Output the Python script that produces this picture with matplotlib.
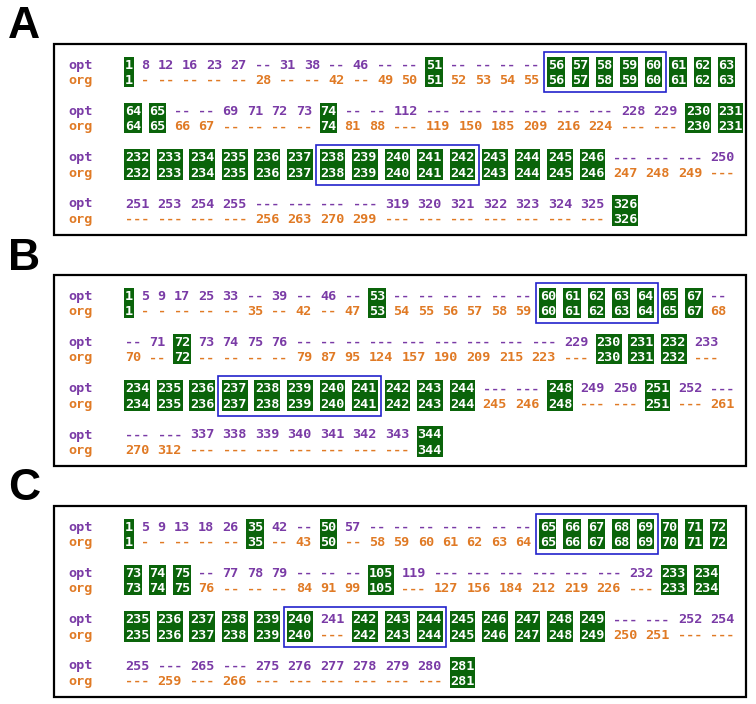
import matplotlib
matplotlib.use('Agg')
import matplotlib.pyplot as plt
from matplotlib.patches import Rectangle

# alignment rows: None = gap (drawn as dashes)
A_opt = [[1, 8, 12, 16, 23, 27, None, 31, 38, None, 46, None, None, 51, None, None, None, None, 56, 57, 58, 59, 60, 61, 62, 63],
         [64, 65, None, None, 69, 71, 72, 73, 74, None, None, 112, None, None, None, None, None, None, 228, 229, 230, 231],
         [232, 233, 234, 235, 236, 237, 238, 239, 240, 241, 242, 243, 244, 245, 246, None, None, None, 250],
         [251, 253, 254, 255, None, None, None, None, 319, 320, 321, 322, 323, 324, 325, 326]]
A_org = [[1, None, None, None, None, None, 28, None, None, 42, None, 49, 50, 51, 52, 53, 54, 55, 56, 57, 58, 59, 60, 61, 62, 63],
         [64, 65, 66, 67, None, None, None, None, 74, 81, 88, None, 119, 150, 185, 209, 216, 224, None, None, 230, 231],
         [232, 233, 234, 235, 236, 237, 238, 239, 240, 241, 242, 243, 244, 245, 246, 247, 248, 249, None],
         [None, None, None, None, 256, 263, 270, 299, None, None, None, None, None, None, None, 326]]
A_blue = [(0, 56, 60), (2, 238, 242)]

B_opt = [[1, 5, 9, 17, 25, 33, None, 39, None, 46, None, 53, None, None, None, None, None, None, 60, 61, 62, 63, 64, 65, 67, None],
         [None, 71, 72, 73, 74, 75, 76, None, None, None, None, None, None, None, None, None, 229, 230, 231, 232, 233],
         [234, 235, 236, 237, 238, 239, 240, 241, 242, 243, 244, None, None, 248, 249, 250, 251, 252, None],
         [None, None, 337, 338, 339, 340, 341, 342, 343, 344]]
B_org = [[1, None, None, None, None, None, 35, None, 42, None, 47, 53, 54, 55, 56, 57, 58, 59, 60, 61, 62, 63, 64, 65, 67, 68],
         [70, None, 72, None, None, None, None, 79, 87, 95, 124, 157, 190, 209, 215, 223, None, 230, 231, 232, None],
         [234, 235, 236, 237, 238, 239, 240, 241, 242, 243, 244, 245, 246, 248, None, None, 251, None, 261],
         [270, 312, None, None, None, None, None, None, None, 344]]
B_blue = [(0, 60, 64), (2, 237, 241)]

C_opt = [[1, 5, 9, 13, 18, 26, 35, 42, None, 50, 57, None, None, None, None, None, None, None, 65, 66, 67, 68, 69, 70, 71, 72],
         [73, 74, 75, None, 77, 78, 79, None, None, None, 105, 119, None, None, None, None, None, None, 232, 233, 234],
         [235, 236, 237, 238, 239, 240, 241, 242, 243, 244, 245, 246, 247, 248, 249, None, None, 252, 254],
         [255, None, 265, None, 275, 276, 277, 278, 279, 280, 281]]
C_org = [[1, None, None, None, None, None, 35, None, 43, 50, None, 58, 59, 60, 61, 62, 63, 64, 65, 66, 67, 68, 69, 70, 71, 72],
         [73, 74, 75, 76, None, None, None, 84, 91, 99, 105, None, 127, 156, 184, 212, 219, 226, None, 233, 234],
         [235, 236, 237, 238, 239, 240, None, 242, 243, 244, 245, 246, 247, 248, 249, 250, 251, None, None],
         [None, 259, None, 266, None, None, None, None, None, None, 281]]
C_blue = [(0, 65, 69), (2, 240, 244)]

purple = '#7A3BA6'
orange = '#E07A25'
green = '#0A640A'
blue = '#2222CC'

MONO = dict(family='DejaVu Sans Mono', fontweight='bold', fontsize=9.7, va='baseline', ha='left')
cw = 8.13        # px per character
x0 = 125
xlab = 68
line_gap = 15.5
row_gap = 46.3
base = 4.6

fig = plt.figure(figsize=(7.56, 7.04), dpi=100)
ax = fig.add_axes([0, 0, 1, 1])
ax.set_xlim(0, 756)
ax.set_ylim(704, 0)
ax.axis('off')


def draw_panel(letter, opt_rows, org_rows, blue_boxes, y0):
    top = y0 - 20.5
    bot = y0 + 3 * row_gap + line_gap + 16.6
    ax.add_patch(Rectangle((54, top), 692, bot - top, fill=False, ec='black', lw=1.6))
    ax.text(24, top - 5, letter, ha='center', va='baseline', fontsize=32,
            fontweight='bold', family='Liberation Sans')
    for r, (opt, org) in enumerate(zip(opt_rows, org_rows)):
        yo = y0 + r * row_gap
        yg = yo + line_gap
        ax.text(xlab, yo + base, 'opt', color=purple, **MONO)
        ax.text(xlab, yg + base, 'org', color=orange, **MONO)
        pos = 0
        cells = []
        for a, b in zip(opt, org):
            w = max(len(str(v)) for v in (a, b) if v is not None)
            xs = x0 + pos * cw
            cells.append((xs, w))
            if a is not None and a == b:
                ax.add_patch(Rectangle((xs - 0.6, yo - 7.5), w * cw + 1.2, line_gap + 15,
                                       fc=green, ec='none'))
                ax.text(xs, yo + base, str(a), color='white', **MONO)
                ax.text(xs, yg + base, str(b), color='white', **MONO)
            else:
                ax.text(xs, yo + base, str(a) if a is not None else '-' * w, color=purple, **MONO)
                ax.text(xs, yg + base, str(b) if b is not None else '-' * w, color=orange, **MONO)
            pos += w + 1
        for br, v1, v2 in blue_boxes:
            if br != r:
                continue
            i1, i2 = opt.index(v1), opt.index(v2)
            left = cells[i1][0] - cw / 2
            right = cells[i2][0] + cells[i2][1] * cw + cw / 2
            ax.add_patch(Rectangle((left, yo - 12), right - left, line_gap + 24.5,
                                   fill=False, ec=blue, lw=1.2))


draw_panel('A', A_opt, A_org, A_blue, 64)
draw_panel('B', B_opt, B_org, B_blue, 295)
draw_panel('C', C_opt, C_org, C_blue, 526)

fig.savefig('out.png', dpi=100)
